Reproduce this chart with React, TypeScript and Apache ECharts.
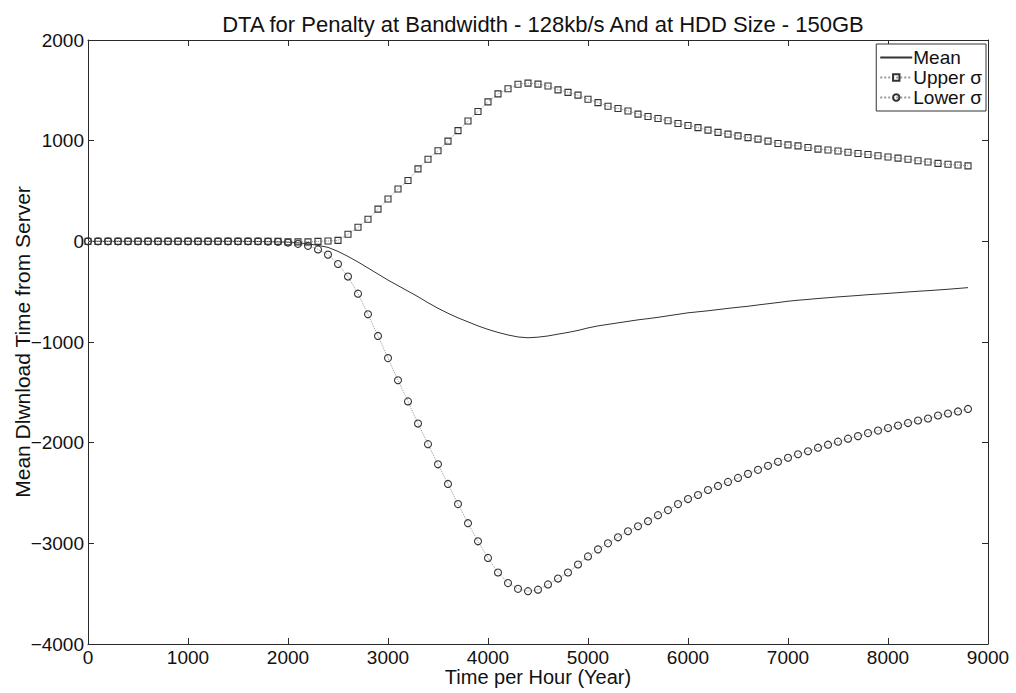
import React, { useEffect, useRef } from "react";
import * as echarts from "echarts";

const FONT = '"Liberation Sans", Arial, Helvetica, sans-serif';

const titleText = "DTA for Penalty at Bandwidth - 128kb/s And at HDD Size - 150GB";
const xAxisName = "Time per Hour (Year)";
const yAxisName = "Mean Dlwnload Time from Server";
const seriesNames = ["Mean", "Upper σ", "Lower σ"];

const xTicks = [0, 1000, 2000, 3000, 4000, 5000, 6000, 7000, 8000, 9000];
const yTicks = [-4000, -3000, -2000, -1000, 0, 1000, 2000];

const xs = [
  0, 100, 200, 300, 400, 500, 600, 700, 800, 900,
  1000, 1100, 1200, 1300, 1400, 1500, 1600, 1700, 1800, 1900,
  2000, 2100, 2200, 2300, 2400, 2500, 2600, 2700, 2800, 2900,
  3000, 3100, 3200, 3300, 3400, 3500, 3600, 3700, 3800, 3900,
  4000, 4100, 4200, 4300, 4400, 4500, 4600, 4700, 4800, 4900,
  5000, 5100, 5200, 5300, 5400, 5500, 5600, 5700, 5800, 5900,
  6000, 6100, 6200, 6300, 6400, 6500, 6600, 6700, 6800, 6900,
  7000, 7100, 7200, 7300, 7400, 7500, 7600, 7700, 7800, 7900,
  8000, 8100, 8200, 8300, 8400, 8500, 8600, 8700, 8800,
];

const meanVals = [
  0, 0, 0, 0, 0, 0, 0, 0, 0, 0,
  0, 0, 0, 0, 0, 0, -1, -2, -3, -5,
  -9, -15, -25, -40, -60, -100, -150, -205, -265, -325,
  -385, -440, -495, -550, -610, -665, -715, -760, -800, -840,
  -875, -905, -930, -950, -958, -952, -940, -922, -905, -885,
  -860, -840, -825, -810, -795, -780, -768, -755, -740, -725,
  -710, -700, -690, -678, -666, -655, -645, -632, -620, -608,
  -595, -585, -577, -568, -560, -552, -545, -538, -530, -524,
  -517, -510, -503, -496, -490, -483, -476, -468, -460,
];

const upperVals = [
  0, 0, 0, 0, 0, 0, 0, 0, 0, 0,
  0, 0, 0, 0, 0, 0, 0, 0, 0, 0,
  -5, -5, -5, 0, 3, 10, 70, 140, 220, 320,
  420, 520, 605, 720, 815, 900, 995, 1100, 1195, 1290,
  1385, 1465, 1515, 1560, 1572, 1562, 1543, 1505, 1480, 1452,
  1412, 1378, 1342, 1320, 1295, 1264, 1240, 1220, 1198, 1170,
  1150, 1130, 1105, 1082, 1065, 1048, 1030, 1015, 995, 972,
  958, 948, 932, 916, 908, 898, 885, 872, 862, 850,
  838, 827, 815, 800, 788, 774, 765, 758, 750,
];

const lowerVals = [
  0, 0, 0, 0, 0, 0, 0, 0, 0, 0,
  0, 0, 0, 0, 0, 0, 0, 0, -2, -5,
  -12, -25, -45, -80, -132, -225, -350, -520, -725, -940,
  -1160, -1380, -1590, -1810, -2015, -2215, -2410, -2610, -2800, -2980,
  -3145, -3290, -3395, -3452, -3475, -3460, -3408, -3350, -3290, -3210,
  -3130, -3060, -3000, -2940, -2880, -2830, -2780, -2720, -2670, -2610,
  -2560, -2520, -2470, -2430, -2390, -2350, -2310, -2270, -2230, -2190,
  -2150, -2115, -2085, -2050, -2020, -1990, -1960, -1935, -1905, -1880,
  -1855, -1830, -1805, -1780, -1760, -1730, -1710, -1690, -1665,
];

const fmt = (v: number) => (v < 0 ? "\u2212" + Math.abs(v) : String(v));

export default function App() {
  const ref = useRef<HTMLDivElement>(null);

  useEffect(() => {
    if (!ref.current) return;
    const chart = echarts.init(ref.current, undefined, { renderer: "svg" });
    const axisColor = "#2a2a2a";
    const lineStyle = { color: axisColor, width: 1 };
    const labelStyle = { fontFamily: FONT, fontSize: 19, color: "#111" };

    const xBase = {
      type: "value" as const,
      min: xTicks[0],
      max: xTicks[xTicks.length - 1],
      interval: xTicks[1] - xTicks[0],
      splitLine: { show: false },
      axisLine: { show: true, onZero: false, lineStyle },
      axisTick: { show: true, inside: true, length: 6, lineStyle },
    };
    const yBase = {
      type: "value" as const,
      min: yTicks[0],
      max: yTicks[yTicks.length - 1],
      interval: yTicks[1] - yTicks[0],
      splitLine: { show: false },
      axisLine: { show: true, onZero: false, lineStyle },
      axisTick: { show: true, inside: true, length: 6, lineStyle },
    };

    const pair = (vals: number[]) => xs.map((x, i) => [x, vals[i]]);

    chart.setOption({
      animation: false,
      backgroundColor: "#ffffff",
      title: {
        text: titleText,
        left: 538,
        top: 8,
        textAlign: "center",
        textStyle: { fontFamily: FONT, fontSize: 22, fontWeight: "normal", color: "#111" },
      },
      legend: {
        data: [
          { name: seriesNames[0], itemStyle: { opacity: 0 } },
          { name: seriesNames[1] },
          { name: seriesNames[2] },
        ],
        orient: "vertical",
        right: 30,
        top: 44,
        align: "left",
        backgroundColor: "#ffffff",
        borderColor: "#333",
        borderWidth: 1,
        borderRadius: 0,
        padding: [4, 4, 4, 3],
        itemGap: 1,
        itemWidth: 32,
        itemHeight: 8,
        textStyle: { fontFamily: FONT, fontSize: 19, color: "#111", padding: [0, 0, 0, -4] },
      },
      grid: { left: 88, top: 40, width: 900, height: 604, outerBoundsMode: "none", containLabel: false },
      xAxis: [
        {
          ...xBase,
          position: "bottom",
          name: xAxisName,
          nameLocation: "middle",
          nameGap: 23,
          nameMoveOverlap: false,
          nameTextStyle: { fontFamily: FONT, fontSize: 20, color: "#111" },
          axisLabel: { ...labelStyle, margin: 4, showMinLabel: true, showMaxLabel: true, formatter: fmt },
        },
        {
          ...xBase,
          position: "top",
          axisLabel: { show: false },
        },
      ],
      yAxis: [
        {
          ...yBase,
          position: "left",
          name: yAxisName,
          nameLocation: "middle",
          nameGap: 55,
          nameMoveOverlap: false,
          nameRotate: 90,
          nameTextStyle: { fontFamily: FONT, fontSize: 21, color: "#111" },
          axisLabel: { ...labelStyle, margin: 4, showMinLabel: true, showMaxLabel: true, formatter: fmt },
        },
        {
          ...yBase,
          position: "right",
          axisLabel: { show: false },
        },
      ],
      series: [
        {
          name: seriesNames[0],
          type: "line",
          xAxisIndex: 0,
          yAxisIndex: 0,
          data: pair(meanVals),
          symbol: "none",
          lineStyle: { color: "#333", width: 1 },
          itemStyle: { color: "#333" },
          z: 2,
        },
        {
          name: seriesNames[1],
          type: "line",
          xAxisIndex: 0,
          yAxisIndex: 0,
          data: pair(upperVals),
          symbol: "rect",
          symbolSize: 6,
          showAllSymbol: true,
          lineStyle: { color: "#999", width: 1, type: "dotted" },
          itemStyle: { color: "rgba(255,255,255,0)", borderColor: "#333", borderWidth: 1.1 },
          z: 3,
        },
        {
          name: seriesNames[2],
          type: "line",
          xAxisIndex: 0,
          yAxisIndex: 0,
          data: pair(lowerVals),
          symbol: "circle",
          symbolSize: 7,
          showAllSymbol: true,
          lineStyle: { color: "#999", width: 1, type: "dotted" },
          itemStyle: { color: "rgba(255,255,255,0)", borderColor: "#333", borderWidth: 1.1 },
          z: 3,
        },
      ],
    });
    return () => chart.dispose();
  }, []);

  return (
    <div
      ref={ref}
      style={{ position: "fixed", left: 0, top: 0, width: 1016, height: 693, background: "#fff" }}
    />
  );
}
